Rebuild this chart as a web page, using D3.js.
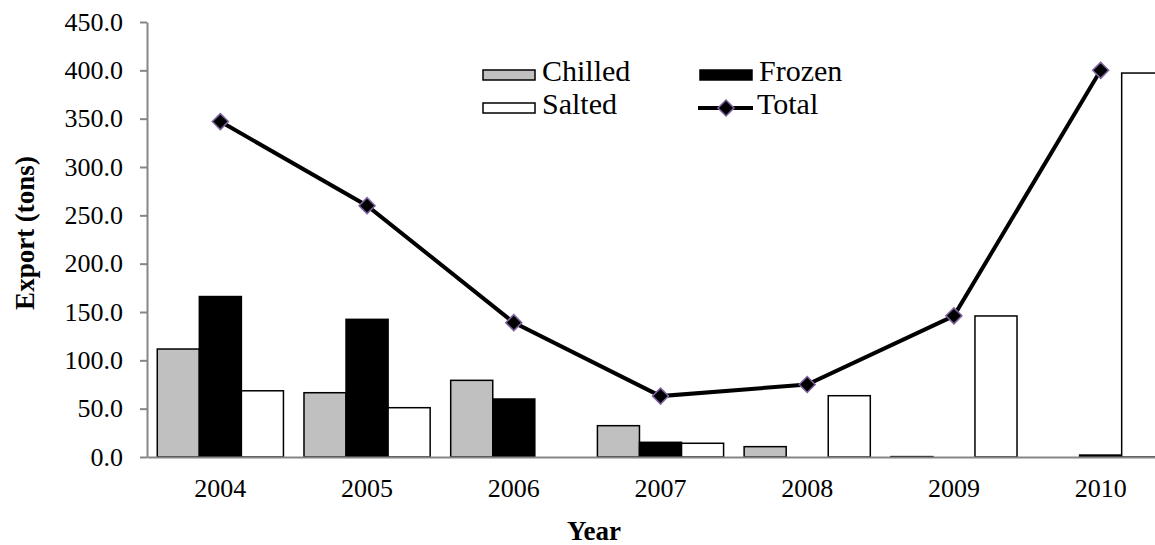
<!DOCTYPE html>
<html>
<head>
<meta charset="utf-8">
<script src="https://d3js.org/d3.v7.min.js"></script>
<style>
  body { margin: 0; background: #fff; }
  svg { display: block; }
</style>
</head>
<body>
<script>
// chart values
var years = ["2004", "2005", "2006", "2007", "2008", "2009", "2010"];
var chilled = [111.7, 66.5, 79.3, 32.4, 10.7, 0.4, 0];
var frozen = [166, 142.4, 60, 15.2, 0, 0, 2];
var salted = [68.5, 51, 0, 14.2, 63.4, 145.9, 397.2];
var total = [347, 260, 139, 63, 75, 146, 400];
var yTicks = [0, 50, 100, 150, 200, 250, 300, 350, 400, 450];

var seriesNames = ["Chilled", "Frozen", "Salted"];
var seriesFill = { Chilled: "#c0c0c0", Frozen: "#000", Salted: "#fff" };

var W = 1155, H = 545;
var pLeft = 147, pRight = 1174, pTop = 22, pBottom = 457;
var axisCol = "#868686";
var markCol = "#7f63a1";
var serif = "'Liberation Serif'";

var svg = d3.select("body").append("svg").attr("width", W).attr("height", H);

var x = d3.scaleBand().domain(years).range([pLeft, pRight]);
var bw = x.bandwidth();
var xs = d3.scaleBand().domain(seriesNames).range([bw * 0.07, bw * 0.93]);
var y = d3.scaleLinear().domain([0, 450]).range([pBottom, pTop]);

// bars
var rows = years.map(function (yr, i) {
  return { year: yr, vals: [
    { s: "Chilled", v: chilled[i] },
    { s: "Frozen", v: frozen[i] },
    { s: "Salted", v: salted[i] }] };
});

var g = svg.append("g").selectAll("g").data(rows).enter().append("g")
  .attr("transform", function (d) { return "translate(" + x(d.year) + ",0)"; });
g.selectAll("rect").data(function (d) { return d.vals.filter(function (e) { return e.v > 0; }); })
  .enter().append("rect")
  .attr("x", function (d) { return xs(d.s); })
  .attr("width", xs.bandwidth())
  .attr("y", function (d) { return y(d.v); })
  .attr("height", function (d) { return pBottom - y(d.v); })
  .attr("fill", function (d) { return seriesFill[d.s]; })
  .attr("stroke", "#000").attr("stroke-width", 1.5);

// axes
var yAxis = d3.axisLeft(y).tickValues(yTicks).tickFormat(d3.format(".1f"))
  .tickSize(7).tickSizeOuter(0).tickPadding(17);
var ya = svg.append("g").attr("transform", "translate(" + pLeft + ",0)").call(yAxis);
var xAxis = d3.axisBottom(x).tickSize(0).tickPadding(22);
var xa = svg.append("g").attr("transform", "translate(0," + pBottom + ")").call(xAxis);

[ya, xa].forEach(function (a) {
  a.selectAll("path, line").attr("stroke", axisCol).attr("stroke-width", 2);
  a.selectAll("text").attr("fill", "#000")
    .style("font-family", serif).style("font-size", "26px");
});

// total line
var line = d3.line()
  .x(function (d, i) { return x(years[i]) + bw / 2; })
  .y(function (d) { return y(d); });
svg.append("path").datum(total).attr("d", line)
  .attr("fill", "none").attr("stroke", "#000").attr("stroke-width", 4);

var diamond = d3.symbol().type(d3.symbolSquare).size(128);
svg.selectAll(".mk").data(total).enter().append("path")
  .attr("class", "mk")
  .attr("d", diamond)
  .attr("transform", function (d, i) {
    return "translate(" + (x(years[i]) + bw / 2) + "," + y(d) + ") rotate(45)";
  })
  .attr("fill", "#000").attr("stroke", markCol).attr("stroke-width", 1.5);

// axis titles
svg.append("text").attr("x", 594).attr("y", 540).attr("text-anchor", "middle")
  .style("font-family", serif).style("font-size", "27px").style("font-weight", "bold").text("Year");
svg.append("text").attr("transform", "translate(34,233) rotate(-90)")
  .attr("text-anchor", "middle")
  .style("font-family", serif).style("font-size", "27px").style("font-weight", "bold").text("Export (tons)");

// legend
var leg = svg.append("g");
var legItems = [
  { name: "Chilled", kind: "bar", x: 483, y: 75 },
  { name: "Frozen", kind: "bar", x: 700, y: 75 },
  { name: "Salted", kind: "bar", x: 483, y: 108 },
  { name: "Total", kind: "line", x: 698, y: 108 }
];
legItems.forEach(function (it) {
  if (it.kind === "bar") {
    leg.append("rect").attr("x", it.x).attr("y", it.y - 5).attr("width", 52).attr("height", 10)
      .attr("fill", seriesFill[it.name]).attr("stroke", "#000").attr("stroke-width", 1.5);
  } else {
    leg.append("line").attr("x1", it.x).attr("x2", it.x + 55).attr("y1", it.y).attr("y2", it.y)
      .attr("stroke", "#000").attr("stroke-width", 4);
    leg.append("path").attr("d", diamond)
      .attr("transform", "translate(" + (it.x + 28) + "," + it.y + ") rotate(45)")
      .attr("fill", "#000").attr("stroke", markCol).attr("stroke-width", 1.5);
  }
  leg.append("text").attr("x", it.x + 59).attr("y", it.y + 6)
    .style("font-family", serif).style("font-size", "30px").text(it.name);
});
</script>
</body>
</html>
